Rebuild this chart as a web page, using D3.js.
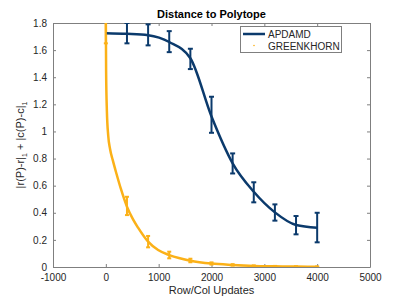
<!DOCTYPE html>
<html>
<head>
<meta charset="utf-8">
<script src="https://cdn.jsdelivr.net/npm/d3@7"></script>
<style>
  body { margin: 0; background: #fff; }
  text { font-family: "Liberation Sans", Arial, sans-serif; }
</style>
</head>
<body>
<svg id="chart" width="409" height="300"></svg>
<script>
// values
const xTicks = [-1000, 0, 1000, 2000, 3000, 4000, 5000];
const yTicks = [0, 0.2, 0.4, 0.6, 0.8, 1, 1.2, 1.4, 1.6, 1.8];

const apdamdX = [0, 400, 800, 1200, 1600, 2000, 2400, 2800, 3200, 3600, 4000];
const apdamdY = [1.725, 1.72, 1.71, 1.66, 1.54, 1.11, 0.765, 0.555, 0.403, 0.31, 0.29];
const apdamdLo = [1.725, 1.65, 1.635, 1.585, 1.46, 0.99, 0.69, 0.477, 0.342, 0.241, 0.182];
const apdamdHi = [1.725, 1.80, 1.79, 1.74, 1.61, 1.256, 0.838, 0.625, 0.462, 0.376, 0.40];

// greenkhorn traced curve
const greenLineX = [0, 5, 20, 45, 80, 130, 200, 290, 400, 510, 610, 800, 990, 1200, 1400, 1600, 2000, 2400, 2800, 3200, 3600, 4000];
const greenLineY = [1.85, 1.45, 1.15, 0.97, 0.87, 0.79, 0.69, 0.57, 0.445, 0.355, 0.29, 0.187, 0.125, 0.088, 0.064, 0.046, 0.025, 0.015, 0.008, 0.005, 0.003, 0.002];
// greenkhorn error bars
const greenX = [0, 400, 800, 1200, 1600, 2000, 2400, 2800, 3200, 3600, 4000];
const greenLo = [1.65, 0.383, 0.145, 0.064, 0.035, 0.018, 0.010, 0.005, 0.003, 0.002, 0.001];
const greenHi = [1.95, 0.518, 0.229, 0.113, 0.061, 0.034, 0.021, 0.012, 0.008, 0.005, 0.004];

const blue = "#0b3a6c";
const orange = "#fbb118";

const margin = { left: 53, right: 39, top: 23, bottom: 33 };
const W = 409, H = 300;

const svg = d3.select("#chart");
const x = d3.scaleLinear().domain([-1000, 5000]).range([margin.left, W - margin.right]);
const y = d3.scaleLinear().domain([0, 1.8]).range([H - margin.bottom, margin.top]);

svg.append("defs").append("clipPath").attr("id", "clip")
  .append("rect")
  .attr("x", margin.left).attr("y", margin.top)
  .attr("width", x.range()[1] - x.range()[0])
  .attr("height", y.range()[0] - y.range()[1]);

const axisCol = "#7f7f7f";
const textCol = "#262626";
const fmtX = d => String(d);            // plain hyphen for minus, like the source
const fmtY = d => (d === 0 || d === 1) ? String(d) : d.toFixed(1);

// axes with inward ticks, box on
const ax = svg.append("g");
function styleAxis(g) {
  g.select(".domain").attr("stroke", axisCol);
  g.selectAll(".tick line").attr("stroke", axisCol);
  g.selectAll(".tick text").attr("fill", textCol).style("font-size", "10px");
}
ax.append("g").attr("transform", `translate(0,${y(0)})`)
  .call(d3.axisBottom(x).tickValues(xTicks).tickSize(-3).tickSizeOuter(0).tickPadding(7).tickFormat(fmtX))
  .call(styleAxis);
ax.append("g").attr("transform", `translate(0,${y(1.8)})`)
  .call(d3.axisTop(x).tickValues(xTicks).tickSize(-3).tickSizeOuter(0).tickFormat(""))
  .call(styleAxis);
ax.append("g").attr("transform", `translate(${x(-1000)},0)`)
  .call(d3.axisLeft(y).tickValues(yTicks).tickSize(-3).tickSizeOuter(0).tickPadding(6).tickFormat(fmtY))
  .call(styleAxis);
ax.append("g").attr("transform", `translate(${x(5000)},0)`)
  .call(d3.axisRight(y).tickValues(yTicks).tickSize(-3).tickSizeOuter(0).tickFormat(""))
  .call(styleAxis);

const plot = svg.append("g").attr("clip-path", "url(#clip)");
const line = d3.line().x(d => x(d[0])).y(d => y(d[1])).curve(d3.curveMonotoneX);

plot.append("path")
  .datum(greenLineX.map((v, i) => [v, greenLineY[i]]))
  .attr("d", line).attr("fill", "none")
  .attr("stroke", orange).attr("stroke-width", 2.5);

plot.append("path")
  .datum(apdamdX.map((v, i) => [v, apdamdY[i]]))
  .attr("d", line).attr("fill", "none")
  .attr("stroke", blue).attr("stroke-width", 2.5);

function errorBars(xs, lo, hi, color, cap, sw) {
  const g = plot.append("g").attr("stroke", color).attr("stroke-width", sw);
  xs.forEach((v, i) => {
    if (hi[i] - lo[i] < 1e-6) return;
    const cx = x(v);
    g.append("line").attr("x1", cx).attr("x2", cx).attr("y1", y(lo[i])).attr("y2", y(hi[i]));
    g.append("line").attr("x1", cx - cap).attr("x2", cx + cap).attr("y1", y(lo[i])).attr("y2", y(lo[i]));
    g.append("line").attr("x1", cx - cap).attr("x2", cx + cap).attr("y1", y(hi[i])).attr("y2", y(hi[i]));
  });
}
errorBars(greenX, greenLo, greenHi, orange, 2, 2);
errorBars(apdamdX, apdamdLo, apdamdHi, blue, 2.5, 2);

// title and labels
svg.append("text").attr("x", (x(-1000) + x(5000)) / 2).attr("y", 18)
  .attr("text-anchor", "middle").style("font-size", "11px").style("font-weight", "bold")
  .attr("fill", "#000").text("Distance to Polytope");

svg.append("text").attr("x", (x(-1000) + x(5000)) / 2).attr("y", 294)
  .attr("text-anchor", "middle").style("font-size", "11px").attr("fill", textCol)
  .text("Row/Col Updates");

const yl = svg.append("text")
  .attr("transform", `translate(24,${(y(0) + y(1.8)) / 2}) rotate(-90)`)
  .attr("text-anchor", "middle").style("font-size", "11px").attr("fill", textCol);
yl.append("tspan").text("|r(P)-r|");
yl.append("tspan").attr("dy", 3).style("font-size", "7px").text("1");
yl.append("tspan").attr("dy", -3).text(" + |c(P)-c|");
yl.append("tspan").attr("dy", 3).style("font-size", "7px").text("1");

// legend
const lg = svg.append("g");
lg.append("rect").attr("x", 240.5).attr("y", 26.5).attr("width", 101).attr("height", 26)
  .attr("fill", "#fff").attr("stroke", axisCol).attr("stroke-width", 1);
lg.append("line").attr("x1", 243).attr("x2", 265).attr("y1", 34).attr("y2", 34)
  .attr("stroke", blue).attr("stroke-width", 2.5);
lg.append("circle").attr("cx", 254).attr("cy", 45.5).attr("r", 0.8).attr("fill", orange);
lg.append("text").attr("x", 268).attr("y", 38).style("font-size", "10px").attr("fill", textCol).text("APDAMD");
lg.append("text").attr("x", 268).attr("y", 49.5).style("font-size", "10px").attr("fill", textCol).text("GREENKHORN");
</script>
</body>
</html>
